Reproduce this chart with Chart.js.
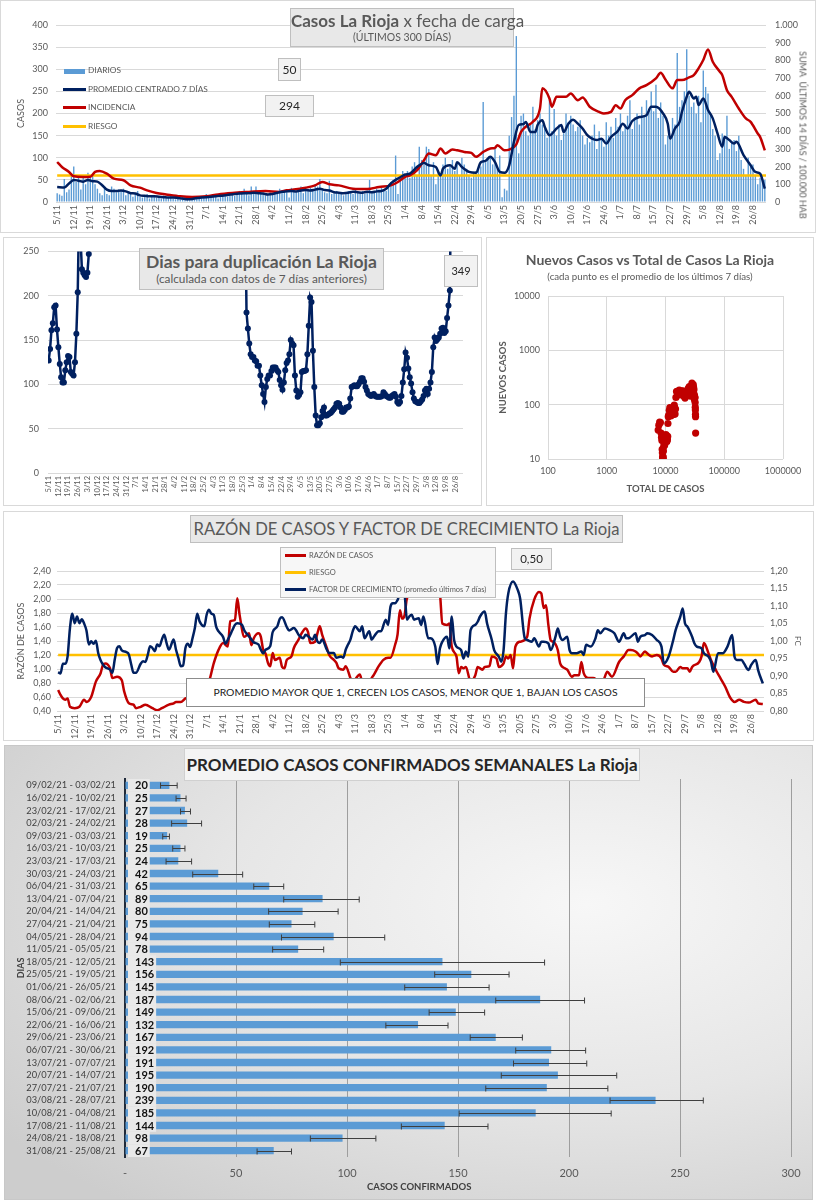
<!DOCTYPE html>
<html lang="es">
<head>
<meta charset="utf-8">
<title>Casos La Rioja</title>
<script src="https://cdn.jsdelivr.net/npm/chart.js@4.4.1/dist/chart.umd.min.js"></script>
<style>
  body { margin: 0; width: 816px; height: 1200px; position: relative; overflow: hidden; background: #fff; font-family: Lato, "Open Sans", sans-serif; color: #595959; }
  .panel { position: absolute; box-sizing: border-box; border: 1px solid #d9d9d9; background: #fff; }
  canvas { position: absolute; }
  .box { position: absolute; box-sizing: border-box; border: 1px solid #bfbfbf; background: #e8e8e8; text-align: center; color: #595959; white-space: nowrap; }
  .val { background: #f2f2f2; font-size: 12px; color: #262626; }
  .txt { position: absolute; white-space: nowrap; }
  .sw { position: absolute; }
</style>
</head>
<body>
<div class="panel" style="left:0;top:0;width:816px;height:233px"></div>
<div class="panel" style="left:3px;top:237px;width:479px;height:269px"></div>
<div class="panel" style="left:486px;top:237px;width:328px;height:269px"></div>
<div class="panel" style="left:3px;top:511px;width:811px;height:230px"></div>
<div class="panel" style="left:4px;top:745px;width:809px;height:455px;border-color:#c8c8c8;background:radial-gradient(ellipse 90% 85% at 72% 35%, #f7f7f7 0%, #e6e6e6 50%, #cdcdcd 100%)"></div>

<canvas id="c1" width="816" height="232" style="left:0;top:0"></canvas>
<canvas id="c2" width="478" height="268" style="left:3px;top:237px"></canvas>
<canvas id="c3" width="326" height="268" style="left:487px;top:237px"></canvas>
<canvas id="c4" width="810" height="228" style="left:3px;top:512px"></canvas>
<canvas id="c5" width="807" height="455" style="left:5px;top:745px"></canvas>

<!-- panel 1 overlays -->
<div class="box" style="left:290px;top:8px;width:224px;height:39px">
  <div style="font-size:17px;line-height:20px;padding-top:2px"><b>Casos La Rioja</b> x fecha de carga</div>
  <div style="font-size:10.5px;line-height:12px">(ÚLTIMOS 300 DÍAS)</div>
</div>
<div class="sw" style="left:64px;top:69px;width:21px;height:5px;background:#5B9BD5"></div>
<div class="txt" style="left:88px;top:65px;font-size:8.3px">DIARIOS</div>
<div class="sw" style="left:63px;top:88px;width:23px;height:3px;background:#002060"></div>
<div class="txt" style="left:88px;top:84px;font-size:8.3px">PROMEDIO CENTRADO 7 DÍAS</div>
<div class="sw" style="left:63px;top:106px;width:23px;height:3px;background:#C00000"></div>
<div class="txt" style="left:88px;top:102px;font-size:8.3px">INCIDENCIA</div>
<div class="sw" style="left:63px;top:125px;width:23px;height:3px;background:#FFC000"></div>
<div class="txt" style="left:88px;top:121px;font-size:8.3px">RIESGO</div>
<div class="box val" style="left:278px;top:58px;width:23px;height:23px;line-height:21px">50</div>
<div class="box val" style="left:265px;top:95px;width:49px;height:22px;line-height:20px">294</div>
<div class="txt" style="left:803px;top:135px;font-size:9px;transform:translate(-50%,-50%) rotate(90deg)">SUMA&nbsp; ÚLTIMOS 14 DÍAS / 100.000 HAB</div>

<!-- panel 2 overlays -->
<div class="box" style="left:139px;top:248px;width:245px;height:42px">
  <div style="font-size:17.5px;line-height:21px;padding-top:2px;font-weight:bold">Dias para duplicación La Rioja</div>
  <div style="font-size:11.8px;line-height:14px">(calculada con datos de 7 días anteriores)</div>
</div>
<div class="box val" style="left:444px;top:255px;width:34px;height:32px;line-height:30px;font-size:11px">349</div>

<!-- panel 3 overlays -->
<div class="txt" style="left:487px;top:251px;width:326px;text-align:center;font-size:14px;font-weight:bold">Nuevos Casos vs Total de Casos La Rioja</div>
<div class="txt" style="left:487px;top:270px;width:326px;text-align:center;font-size:9.7px">(cada punto es el promedio de los últimos 7 días)</div>

<!-- panel 4 overlays -->
<div class="box" style="left:190px;top:515px;width:433px;height:28px;font-size:16.6px;line-height:26px">RAZÓN DE CASOS Y FACTOR DE CRECIMIENTO La Rioja</div>
<div class="box" style="left:280px;top:547px;width:216px;height:51px;background:#f7f7f7"></div>
<div class="sw" style="left:285px;top:554px;width:21px;height:3px;background:#C00000"></div>
<div class="txt" style="left:309px;top:551px;font-size:7.5px">RAZÓN DE CASOS</div>
<div class="sw" style="left:285px;top:571px;width:21px;height:3px;background:#FFC000"></div>
<div class="txt" style="left:309px;top:568px;font-size:7.5px">RIESGO</div>
<div class="sw" style="left:285px;top:588px;width:21px;height:3px;background:#002060"></div>
<div class="txt" style="left:309px;top:585px;font-size:7.5px">FACTOR DE CRECIMIENTO (promedio últimos 7 días)</div>
<div class="box val" style="left:511px;top:548px;width:41px;height:22px;line-height:20px;font-size:11.5px">0,50</div>
<div class="box" style="left:186px;top:678px;width:459px;height:29px;background:#fff;border-color:#8c8c8c;font-size:10.4px;line-height:27px;color:#1a1a1a">PROMEDIO MAYOR QUE 1, CRECEN LOS CASOS, MENOR QUE 1, BAJAN LOS CASOS</div>

<!-- panel 5 overlays -->
<div class="box" style="left:184px;top:748px;width:456px;height:33px;background:#f4f4f4;border-color:#d0d0d0;font-size:17px;line-height:31px;font-weight:bold;color:#262626">PROMEDIO CASOS CONFIRMADOS SEMANALES La Rioja</div>
<div class="txt" style="left:367px;top:1181px;font-size:9.5px;font-weight:bold;color:#404040">CASOS CONFIRMADOS</div>

<script>
const NAVY = '#002060', RED = '#C00000', YELLOW = '#FFC000', BLUE = '#5B9BD5';

// weekly tick labels, one every 7 days starting 5/11
const weekLabels = ['5/11','12/11','19/11','26/11','3/12','10/12','17/12','24/12','31/12','7/1','14/1','21/1','28/1',
  '4/2','11/2','18/2','25/2','4/3','11/3','18/3','25/3','1/4','8/4','15/4','22/4','29/4','6/5','13/5','20/5','27/5',
  '3/6','10/6','17/6','24/6','1/7','8/7','15/7','22/7','29/7','5/8','12/8','19/8','26/8'];

// daily cases, 300 days (5/11 .. 31/8)
const dailyCases = [
  20,17,14,52,22,28,65,  80,45,55,28,60,40,66,  55,62,40,30,20,15,35,  18,15,35,30,22,28,25,
  30,15,22,18,12,20,25,  12,10,15,18,8,12,14,   10,12,8,15,10,9,13,    8,6,10,5,7,12,6,
  4,8,6,10,12,9,10,      18,14,10,12,15,8,13,   15,18,12,20,16,14,17,  25,18,30,22,15,35,20,
  35,18,22,20,15,16,22,  18,25,20,30,22,25,28,  10,32,28,22,30,35,20,  25,30,32,28,40,35,52,
  30,22,20,48,18,20,25,  20,18,15,22,25,22,18,  28,22,20,25,18,22,50,  22,25,30,28,32,26,25,
  35,45,50,105,18,60,70, 60,70,55,80,90,60,125, 95,85,125,120,60,90,40, 70,60,85,100,75,80,95,
  70,90,60,100,85,75,60, 55,65,70,75,80,226,90, 95,100,85,120,75,105,11, 30,26,150,192,240,375,110,
  195,200,160,150,175,215,165, 185,200,175,165,145,230,160, 210,150,175,140,155,200,180,
  195,175,160,170,185,150,130, 145,135,150,175,120,160,140, 125,180,150,170,145,190,170,
  200,160,175,195,230,165,190, 200,175,215,195,230,210,250, 205,265,190,225,195,130,150,
  140,190,175,337,215,230,250, 345,240,215,225,200,240,180, 297,260,245,195,165,150,95,
  110,155,150,195,120,135,140, 115,150,95,75,60,100,80, 85,60,40,55,50,50
];

// centred 7-day average [day, cases]
const avg7 = [[0,34],[3,33],[5,42],[7,50],[9,48],[11,46],[13,50],[15,47],[17,46],[19,38],[21,28],[23,25],[25,25],[27,26],
  [29,24],[31,20],[33,19],[35,15],[37,14],[39,13],[41,13],[43,12],[45,11],[47,10],[49,10],[51,9],[53,8],[55,6],[57,7],
  [59,9],[61,10],[63,11],[65,12],[67,13],[69,14],[71,15],[73,17],[75,18],[77,19],[79,20],[81,20],[83,21],[85,20],[87,19],
  [89,17],[91,18],[93,21],[95,23],[97,24],[99,25],[101,24],[103,26],[105,27],[107,26],[109,28],[111,30],[113,27],[115,26],
  [117,22],[119,21],[121,20],[123,21],[125,23],[127,22],[129,21],[131,23],[133,22],[135,24],[137,25],[139,30],[141,42],
  [143,50],[145,56],[147,62],[149,64],[152,79],[153,83],[155,88],[157,83],[160,79],[162,60],[163,75],[166,83],[168,75],
  [169,90],[171,79],[174,68],[177,66],[179,90],[181,93],[183,102],[185,90],[187,68],[189,66],[191,83],[193,136],[195,174],
  [197,176],[198,181],[200,158],[202,158],[203,174],[205,185],[206,170],[208,151],[211,166],[213,174],[214,158],[216,177],
  [218,186],[220,177],[222,166],[224,151],[226,143],[228,140],[230,143],[232,132],[234,147],[237,161],[239,177],[241,166],
  [243,183],[246,192],[249,196],[251,215],[253,215],[256,200],[258,177],[259,143],[261,166],[263,181],[264,204],[266,238],
  [267,249],[269,234],[270,238],[271,219],[273,234],[275,208],[277,189],[279,155],[281,125],[282,147],[284,140],[286,132],
  [287,136],[290,106],[293,83],[295,68],[297,64],[299,30]];

// incidence: sum of last 14 days / 100.000 hab [day, value]
const incidence = [[0,226],[2,198],[5,170],[7,145],[11,141],[14,142],[16,170],[18,175],[21,160],[24,132],[28,123],[31,94],
  [35,81],[38,66],[42,51],[46,43],[52,32],[57,28],[63,32],[68,43],[74,51],[81,57],[88,62],[94,57],[97,66],[100,70],[105,81],
  [109,94],[112,113],[115,100],[119,94],[125,75],[131,73],[136,85],[141,94],[144,113],[147,142],[149,151],[152,179],[155,236],
  [157,274],[160,264],[162,302],[164,274],[167,296],[169,292],[172,283],[175,277],[177,255],[180,283],[183,302],[185,306],
  [186,321],[189,292],[191,296],[194,326],[196,396],[198,425],[201,453],[204,528],[205,642],[208,585],[209,538],[211,594],
  [215,594],[217,613],[220,575],[222,590],[225,538],[229,509],[231,500],[234,509],[236,547],[238,528],[240,575],[243,604],
  [246,642],[249,660],[253,698],[255,730],[257,692],[260,642],[262,689],[264,689],[267,704],[269,717],[271,755],[273,802],
  [275,862],[277,792],[280,736],[281,717],[283,632],[285,594],[288,528],[291,472],[293,453],[296,387],[297,368],[299,292]];
const riesgoIncidence = 150;

// days for doubling [day, days]; null = gap (values far above the axis)
const doubling = [[0,127],[1,140],[2,161],[3,169],[4,187],[5,189],[6,162],[7,142],[8,123],[9,108],[10,102],[11,102],[12,116],
  [13,125],[14,132],[15,131],[16,114],[17,112],[18,110],[19,125],[20,157],[21,204],[22,300],[23,265],[24,230],[25,226],[26,223],
  [27,221],[28,226],[29,247],[30,320],[31,null],[141,null],[142,320],[143,181],[144,163],[145,146],[146,134],[147,131],[148,131],
  [149,127],[150,126],[151,121],[152,121],[153,110],[154,99],[155,89],[156,80],[157,97],[158,106],[159,110],[160,110],[161,115],
  [162,119],[163,119],[164,119],[165,116],[166,114],[167,105],[168,99],[169,94],[170,102],[171,116],[172,124],[173,127],[174,134],
  [175,150],[176,146],[177,144],[178,110],[179,93],[180,86],[181,88],[182,91],[183,114],[184,115],[185,115],[186,116],[187,134],
  [188,166],[189,198],[190,193],[191,138],[192,97],[193,65],[194,54],[195,54],[196,56],[197,63],[198,70],[199,74],[200,65],
  [201,65],[202,66],[203,67],[204,68],[205,70],[206,72],[207,74],[208,78],[209,79],[210,78],[211,74],[212,69],[213,69],[214,71],
  [215,74],[216,74],[217,75],[218,84],[219,97],[220,98],[221,99],[222,98],[223,98],[224,100],[225,103],[226,107],[227,107],
  [228,103],[229,97],[230,93],[231,89],[232,88],[233,87],[234,88],[235,89],[236,87],[237,86],[238,86],[239,86],[240,86],[241,87],
  [242,91],[243,89],[244,87],[245,86],[246,85],[247,85],[248,87],[249,88],[250,89],[251,86],[252,80],[253,78],[254,80],[255,87],
  [256,102],[257,117],[258,136],[259,130],[260,118],[261,108],[262,101],[263,91],[264,84],[265,81],[266,80],[267,79],[268,79],
  [269,81],[270,83],[271,87],[272,93],[273,95],[274,89],[275,95],[276,102],[277,114],[278,142],[279,153],[280,149],[281,151],
  [282,153],[283,157],[284,163],[285,164],[286,158],[287,160],[288,175],[289,189],[290,206],[291,349]];

// [total cases, new cases (7 day mean)]
const newVsTotal = [[7500,34],[7700,42],[7950,48],[8200,47],[8400,30],[8550,25],[8680,22],[8780,15],[8850,13],[8920,11],
  [8980,10],[9030,10],[9080,10],[9150,11],[9230,14],[9330,17],[9450,19],[9560,20],[9660,18],[9780,22],[9900,24],[10030,26],
  [10170,28],[10310,27],[10420,21],[10530,21],[10650,22],[10770,23],[10900,26],[11000,45],[11150,60],[11350,64],[11600,79],
  [11850,88],[12100,82],[12350,62],[12600,78],[12850,80],[13100,85],[13330,72],[13550,66],[13800,88],[14100,98],[14350,88],
  [14550,67],[14800,83],[15050,136],[15400,174],[15750,176],[16100,165],[16450,158],[16800,174],[17150,185],[17650,151],
  [18150,166],[18650,158],[19200,180],[19700,177],[20200,158],[20650,143],[21100,141],[21500,132],[22000,152],[22500,170],
  [23000,166],[23600,186],[24200,193],[24800,205],[25450,215],[26100,200],[26650,143],[27150,175],[27750,220],[28200,249],
  [28700,234],[29150,219],[29650,234],[30100,208],[30450,189],[30750,155],[31000,125],[31250,145],[31500,135],[31750,134],
  [31950,110],[32100,90],[32250,80],[32350,66],[32450,60],[32550,30]];
const logTicksX = [100, 1000, 10000, 100000, 1000000];
const logTicksY = [10, 100, 1000, 10000];

// razón de casos [day, ratio]
const caseRatio = [[0,0.70],[1,0.63],[2,0.58],[3,0.56],[4,0.58],[5,0.46],[7,0.44],[9,0.46],[11,0.56],[12,0.53],[14,0.60],
  [16,0.82],[18,0.94],[19,1.06],[20,1.08],[22,1.01],[23,0.87],[25,0.89],[27,0.84],[28,0.68],[30,0.51],[32,0.49],[33,0.44],
  [35,0.46],[37,0.49],[40,0.44],[42,0.41],[44,0.44],[47,0.49],[49,0.51],[50,0.53],[52,0.53],[54,0.58],[57,0.65],[58,0.80],
  [60,0.72],[62,0.72],[64,0.82],[66,1.08],[68,1.27],[70,1.37],[72,1.32],[73,1.68],[75,1.70],[76,2.01],[77,1.77],[79,1.46],
  [81,1.51],[82,1.34],[83,1.44],[85,1.51],[86,1.46],[87,1.27],[88,1.22],[89,1.09],[90,1.04],[91,1.23],[92,1.13],[94,1.16],
  [95,1.03],[96,1.01],[97,1.13],[99,1.18],[100,1.30],[102,1.42],[103,1.49],[105,1.58],[106,1.53],[107,1.37],[109,1.39],
  [110,1.51],[111,1.61],[112,1.49],[114,1.30],[115,1.20],[117,1.13],[118,1.09],[119,1.01],[121,0.99],[122,1.04],[124,0.87],
  [125,0.80],[126,0.85],[128,0.92],[129,0.81],[131,0.76],[133,0.87],[134,0.92],[136,1.04],[138,1.13],[140,1.16],[141,1.16],
  [143,1.35],[144,1.49],[145,1.84],[146,1.72],[147,1.77],[148,2.01],[150,2.08],[153,2.4],[156,2.5],[159,2.4],[161,2.2],
  [162,2.08],[163,1.65],[165,1.63],[166,1.65],
  [167,1.32],[169,1.18],[170,0.94],[171,1.03],[172,1.01],[173,1.03],[175,0.82],[177,0.91],[178,1.03],[180,0.99],[181,1.03],
  [183,1.04],[184,1.18],[186,1.15],[187,1.03],[189,1.08],[190,1.18],[191,1.15],[192,1.20],[193,1.01],[194,1.32],[196,1.39],
  [199,1.46],[200,1.72],[202,1.99],[204,2.10],[205,2.08],[206,1.87],[207,1.91],[208,1.63],[209,1.41],[210,1.39],[212,1.27],
  [213,1.08],[215,1.01],[216,0.99],[218,0.89],[219,0.91],[221,0.91],[222,1.10],[223,0.94],[225,0.87],[227,0.87],[229,0.84],
  [231,0.82],[233,0.96],[235,0.89],[238,1.10],[240,1.18],[242,1.27],[243,1.27],[245,1.25],[246,1.22],[247,1.18],[249,1.25],
  [250,1.22],[252,1.18],[254,1.20],[256,1.15],[257,1.06],[259,1.03],[261,0.96],[262,0.96],[264,1.03],[265,1.01],[267,1.01],
  [268,0.96],[269,1.03],[272,1.10],[273,1.18],[274,1.37],[276,1.22],[277,1.13],[279,0.99],[281,0.87],[283,0.75],[285,0.60],
  [287,0.53],[289,0.56],[291,0.53],[293,0.52],[296,0.56],[297,0.51],[299,0.50]];
const riesgoRatio = 1.2;

// factor de crecimiento, mean of last 7 days [day, fc]
const growthFactor = [[0,0.911],[1,0.907],[2,0.935],[3,0.935],[4,0.956],[5,1.037],[6,1.078],[7,1.051],[8,1.070],[9,1.051],
  [10,1.062],[11,1.050],[12,1.030],[13,0.990],[14,0.999],[15,0.992],[16,1.001],[17,0.965],[18,0.945],[19,0.933],[20,0.925],
  [22,0.918],[23,0.909],[24,0.947],[25,0.980],[26,0.985],[27,0.973],[29,0.968],[30,0.961],[31,0.933],[32,0.909],[33,0.909],
  [35,0.935],[36,0.942],[37,0.940],[38,0.960],[39,0.985],[40,0.980],[41,0.971],[42,0.990],[43,0.985],[44,1.004],[45,1.018],
  [46,0.994],[47,0.975],[49,1.004],[50,0.975],[51,0.952],[52,0.928],[53,0.930],[54,0.980],[55,0.992],[56,0.983],[57,1.008],
  [58,1.037],[59,1.078],[60,1.056],[62,1.042],[63,1.075],[64,1.089],[65,1.078],[66,1.075],[67,1.042],[68,1.028],[70,1.011],
  [71,0.992],[72,1.004],[74,1.032],[75,1.046],[76,1.051],[78,1.046],[79,1.030],[81,1.013],[82,1.004],[83,0.996],[85,0.990],
  [86,0.975],[87,0.964],[88,0.975],[90,0.986],[91,1.025],[93,1.042],[94,1.063],[95,1.068],[97,1.040],[98,1.030],[100,1.037],
  [101,1.030],[102,1.018],[104,1.008],[105,1.018],[107,1.008],[108,1.004],[109,1.018],[110,0.999],[111,0.994],[112,1.004],
  [114,0.975],[115,0.966],[117,0.966],[118,0.952],[120,0.956],[121,0.952],[122,0.975],[123,0.990],[124,1.004],[125,1.028],
  [126,1.042],[128,1.028],[129,1.042],[130,1.008],[132,1.028],[133,1.004],[134,1.013],[136,1.028],[137,1.028],[139,1.061],
  [140,1.046],[141,1.098],[142,1.108],[143,1.108],[144,1.117],[145,1.132],[147,1.127],[148,1.061],[149,1.070],[150,1.075],
  [151,1.061],[153,1.065],[154,1.046],[155,1.070],[157,1.008],[158,1.008],[160,0.984],[161,0.934],[162,0.979],[163,0.998],[165,1.012],
  [166,0.979],[167,1.070],[168,1.003],[169,0.984],[171,0.974],[172,0.950],[173,0.970],[174,0.955],[175,1.031],[177,1.046],
  [178,1.055],[179,1.070],[181,1.084],[182,1.050],[184,1.003],[185,0.974],[187,0.955],[188,0.941],[189,0.974],[190,1.079],
  [191,1.136],[193,1.170],[195,1.146],[196,1.122],[198,1.008],[199,1.003],[201,0.998],[202,1.008],[204,0.984],[205,0.998],
  [206,0.998],[208,0.993],[209,0.974],[211,1.012],[212,1.036],[213,1.012],[214,1.003],[216,1.012],[217,0.974],[218,0.965],
  [220,0.965],[222,0.970],[223,0.960],[224,0.989],[226,0.984],[228,1.008],[229,1.031],[230,1.022],[232,1.036],[234,1.031],
  [236,1.022],[238,0.998],[240,1.022],[241,1.008],[242,1.008],[245,1.022],[246,0.998],[247,1.012],[249,1.017],[250,1.022],
  [252,1.017],[254,1.003],[256,0.984],[257,0.936],[259,0.955],[261,1.003],[262,1.031],[264,1.070],[265,1.093],[266,1.050],
  [267,1.041],[269,1.012],[270,0.993],[271,0.984],[273,0.979],[274,0.965],[276,0.955],[277,0.941],[278,0.912],[280,0.965],
  [282,0.965],[284,0.984],[286,1.017],[287,0.955],[288,0.946],[290,0.946],[291,0.936],[293,0.917],[294,0.931],[296,0.946],
  [297,0.917],[299,0.879]];

// weekly averages (panel 5)
const weekRanges = ['09/02/21 - 03/02/21','16/02/21 - 10/02/21','23/02/21 - 17/02/21','02/03/21 - 24/02/21','09/03/21 - 03/03/21',
  '16/03/21 - 10/03/21','23/03/21 - 17/03/21','30/03/21 - 24/03/21','06/04/21 - 31/03/21','13/04/21 - 07/04/21',
  '20/04/21 - 14/04/21','27/04/21 - 21/04/21','04/05/21 - 28/04/21','11/05/21 - 05/05/21','18/05/21 - 12/05/21',
  '25/05/21 - 19/05/21','01/06/21 - 26/05/21','08/06/21 - 02/06/21','15/06/21 - 09/06/21','22/06/21 - 16/06/21',
  '29/06/21 - 23/06/21','06/07/21 - 30/06/21','13/07/21 - 07/07/21','20/07/21 - 14/07/21','27/07/21 - 21/07/21',
  '03/08/21 - 28/07/21','10/08/21 - 04/08/21','17/08/21 - 11/08/21','24/08/21 - 18/08/21','31/08/21 - 25/08/21'];
const weekAvg = [20,25,27,28,19,25,24,42,65,89,80,75,94,78,143,156,145,187,149,132,167,192,191,195,190,239,185,144,98,67];
const weekLow = [16,23,25,21,17,21.5,18.5,30.5,58,71.5,64.7,65,70.5,66.5,97,139.5,126,167,137,117.5,155.5,176,175,169.5,
  162.5,218.5,150.5,124.5,83.5,59.5];
const weekHigh = [23.5,27.5,29.5,34.5,20,27,30,53,71.5,105.5,96,85.5,117,89.5,189,173,164,207,162,145.5,179,207.5,208,
  221.5,217.5,260.5,219,163.5,113,75];

Chart.defaults.font.family = 'Lato, "Open Sans", sans-serif';
Chart.defaults.color = '#595959';
Chart.defaults.animation = false;
Chart.defaults.plugins.legend.display = false;
Chart.defaults.plugins.tooltip.enabled = false;

const comma = d => v => Number(v).toFixed(d).replace('.', ',');

function dayAxis(h, size) {
  return {
    type: 'linear', min: -0.5, max: 299.5, offset: false,
    grid: { display: false, drawTicks: false }, border: { display: false },
    ticks: { stepSize: 7, includeBounds: false, autoSkip: false, minRotation: 90, maxRotation: 90, padding: 3,
      font: { size: size }, callback: v => weekLabels[v / 7] || '' },
    afterFit: s => { s.height = h; }
  };
}

// panel 1: daily cases
new Chart(document.getElementById('c1'), {
  type: 'bar',
  data: {
    datasets: [
      { type: 'line', data: avg7, yAxisID: 'y', borderColor: NAVY, borderWidth: 2.5, pointRadius: 0, cubicInterpolationMode: 'monotone', order: 1 },
      { type: 'line', data: incidence, yAxisID: 'y1', borderColor: RED, borderWidth: 2.5, pointRadius: 0, cubicInterpolationMode: 'monotone', order: 2 },
      { type: 'line', data: [[0, riesgoIncidence], [299.5, riesgoIncidence]], yAxisID: 'y1', borderColor: YELLOW, borderWidth: 2.5, pointRadius: 0, order: 3 },
      { type: 'bar', data: dailyCases.map((v, i) => ({ x: i, y: v })), yAxisID: 'y', backgroundColor: BLUE, barPercentage: 0.9, categoryPercentage: 0.65, order: 4 }
    ]
  },
  options: {
    responsive: false,
    layout: { padding: { top: 25 } },
    scales: {
      x: dayAxis(30, 9),
      y: { position: 'left', min: 0, max: 400, grid: { color: '#d9d9d9', drawTicks: false }, border: { display: false },
        ticks: { stepSize: 50, font: { size: 9 }, padding: 8 },
        title: { display: true, text: 'CASOS', font: { size: 9 }, padding: { top: 16, bottom: 0 } },
        afterFit: s => { s.width = 56; } },
      y1: { position: 'right', min: 0, max: 1000, grid: { display: false, drawTicks: false }, border: { display: false },
        ticks: { stepSize: 100, font: { size: 9 }, padding: 9, callback: v => v >= 1000 ? '1.000' : v },
        afterFit: s => { s.width = 50; } }
    }
  }
});

// panel 2: doubling days
new Chart(document.getElementById('c2'), {
  type: 'line',
  data: { datasets: [{ data: doubling, borderColor: NAVY, borderWidth: 2.5, pointRadius: 3, pointBackgroundColor: NAVY, pointBorderWidth: 0 }] },
  options: {
    responsive: false,
    layout: { padding: { top: 14, right: 18 } },
    scales: {
      x: dayAxis(32, 7.5),
      y: { min: 0, max: 250, grid: { color: '#d9d9d9', drawTicks: false }, border: { display: false },
        ticks: { stepSize: 50, font: { size: 9 }, padding: 9 },
        afterFit: s => { s.width = 45; } }
    }
  }
});

// panel 3: new vs total cases (log-log)
new Chart(document.getElementById('c3'), {
  type: 'scatter',
  data: { datasets: [{ data: newVsTotal, pointRadius: 3.6, pointBackgroundColor: RED, pointBorderWidth: 0 }] },
  options: {
    responsive: false,
    layout: { padding: { top: 59, right: 30 } },
    scales: {
      x: { type: 'logarithmic', min: 100, max: 1000000, grid: { color: '#d9d9d9', drawTicks: false }, border: { display: false },
        afterBuildTicks: s => { s.ticks = logTicksX.map(v => ({ value: v })); },
        ticks: { font: { size: 9 }, maxRotation: 0, padding: 7, callback: v => String(v) },
        title: { display: true, text: 'TOTAL DE CASOS', font: { size: 9.5, weight: 'bold' }, padding: { top: 0, bottom: 10 } },
        afterFit: s => { s.height = 46; } },
      y: { type: 'logarithmic', min: 10, max: 10000, grid: { color: '#d9d9d9', drawTicks: false }, border: { display: false },
        afterBuildTicks: s => { s.ticks = logTicksY.map(v => ({ value: v })); },
        ticks: { font: { size: 9 }, padding: 8, callback: v => String(v) },
        title: { display: true, text: 'NUEVOS CASOS', font: { size: 9.5, weight: 'bold' }, padding: { top: 10, bottom: 0 } },
        afterFit: s => { s.width = 61; } }
    }
  }
});

// panel 4: case ratio and growth factor
new Chart(document.getElementById('c4'), {
  type: 'line',
  data: {
    datasets: [
      { data: growthFactor, yAxisID: 'y1', borderColor: NAVY, borderWidth: 2.5, pointRadius: 0, cubicInterpolationMode: 'monotone', order: 1 },
      { data: caseRatio, yAxisID: 'y', borderColor: RED, borderWidth: 2.5, pointRadius: 0, cubicInterpolationMode: 'monotone', order: 2 },
      { data: [[0, riesgoRatio], [299.5, riesgoRatio]], yAxisID: 'y', borderColor: YELLOW, borderWidth: 2.5, pointRadius: 0, order: 3 }
    ]
  },
  options: {
    responsive: false,
    layout: { padding: { top: 59 } },
    scales: {
      x: dayAxis(29, 9),
      y: { position: 'left', min: 0.4, max: 2.4, grid: { color: '#d9d9d9', drawTicks: false }, border: { display: false },
        ticks: { stepSize: 0.2, font: { size: 9 }, padding: 6, callback: comma(2) },
        title: { display: true, text: 'RAZÓN DE CASOS', font: { size: 9 }, padding: { top: 13, bottom: 0 } },
        afterFit: s => { s.width = 54; } },
      y1: { position: 'right', min: 0.8, max: 1.2, grid: { display: false, drawTicks: false }, border: { display: false },
        ticks: { stepSize: 0.05, font: { size: 9 }, padding: 6, callback: comma(2) },
        title: { display: true, text: 'FC', font: { size: 8 }, padding: { top: 11, bottom: 0 } },
        afterFit: s => { s.width = 49; } }
    }
  }
});

// panel 5: weekly averages with ranges and value labels
const weekExtras = {
  id: 'weekExtras',
  afterDatasetsDraw(chart) {
    const { ctx, scales: { x, y } } = chart;
    const x0 = x.getPixelForValue(0);
    const rowH = y.getPixelForValue(1) - y.getPixelForValue(0);
    ctx.save();
    ctx.strokeStyle = '#3f3f3f';
    ctx.lineWidth = 1;
    weekAvg.forEach((v, i) => {
      const yy = Math.round(y.getPixelForValue(i)) + 0.5;
      const a = x.getPixelForValue(weekLow[i]), b = x.getPixelForValue(weekHigh[i]);
      ctx.beginPath();
      ctx.moveTo(a, yy); ctx.lineTo(b, yy);
      ctx.moveTo(a, yy - 3); ctx.lineTo(a, yy + 3);
      ctx.moveTo(b, yy - 3); ctx.lineTo(b, yy + 3);
      ctx.stroke();
    });
    ctx.font = 'bold 11px Lato, "Open Sans", sans-serif';
    ctx.textBaseline = 'middle';
    weekAvg.forEach((v, i) => {
      const yy = y.getPixelForValue(i);
      const w = ctx.measureText(String(v)).width;
      ctx.fillStyle = '#e9e9e9';
      ctx.fillRect(x0 + 3, yy - rowH / 2, w + 9, rowH);
      ctx.fillStyle = '#111';
      ctx.fillText(String(v), x0 + 10, yy + 0.5);
    });
    ctx.restore();
  }
};

new Chart(document.getElementById('c5'), {
  type: 'bar',
  data: { labels: weekRanges, datasets: [{ data: weekAvg, backgroundColor: BLUE, barPercentage: 0.58, categoryPercentage: 1 }] },
  options: {
    responsive: false,
    indexAxis: 'y',
    layout: { padding: { top: 34, right: 21 } },
    scales: {
      x: { min: 0, max: 300, border: { display: false },
        grid: { drawTicks: false, color: c => c.tick && c.tick.value === 0 ? 'rgba(0,0,0,0)' : '#9e9e9e' },
        ticks: { stepSize: 50, font: { size: 11 }, padding: 10, callback: v => v === 0 ? '-' : v },
        afterFit: s => { s.height = 43; } },
      y: { grid: { display: false, drawTicks: false }, border: { display: true, color: '#1f2a3a', width: 2 },
        ticks: { font: { size: 9.3 }, color: '#404040', padding: 9, autoSkip: false },
        title: { display: true, text: 'DIAS', font: { size: 9, weight: 'bold' }, color: '#404040', padding: { top: 11, bottom: 0 } },
        afterFit: s => { s.width = 120; } }
    }
  },
  plugins: [weekExtras]
});
</script>
</body>
</html>
